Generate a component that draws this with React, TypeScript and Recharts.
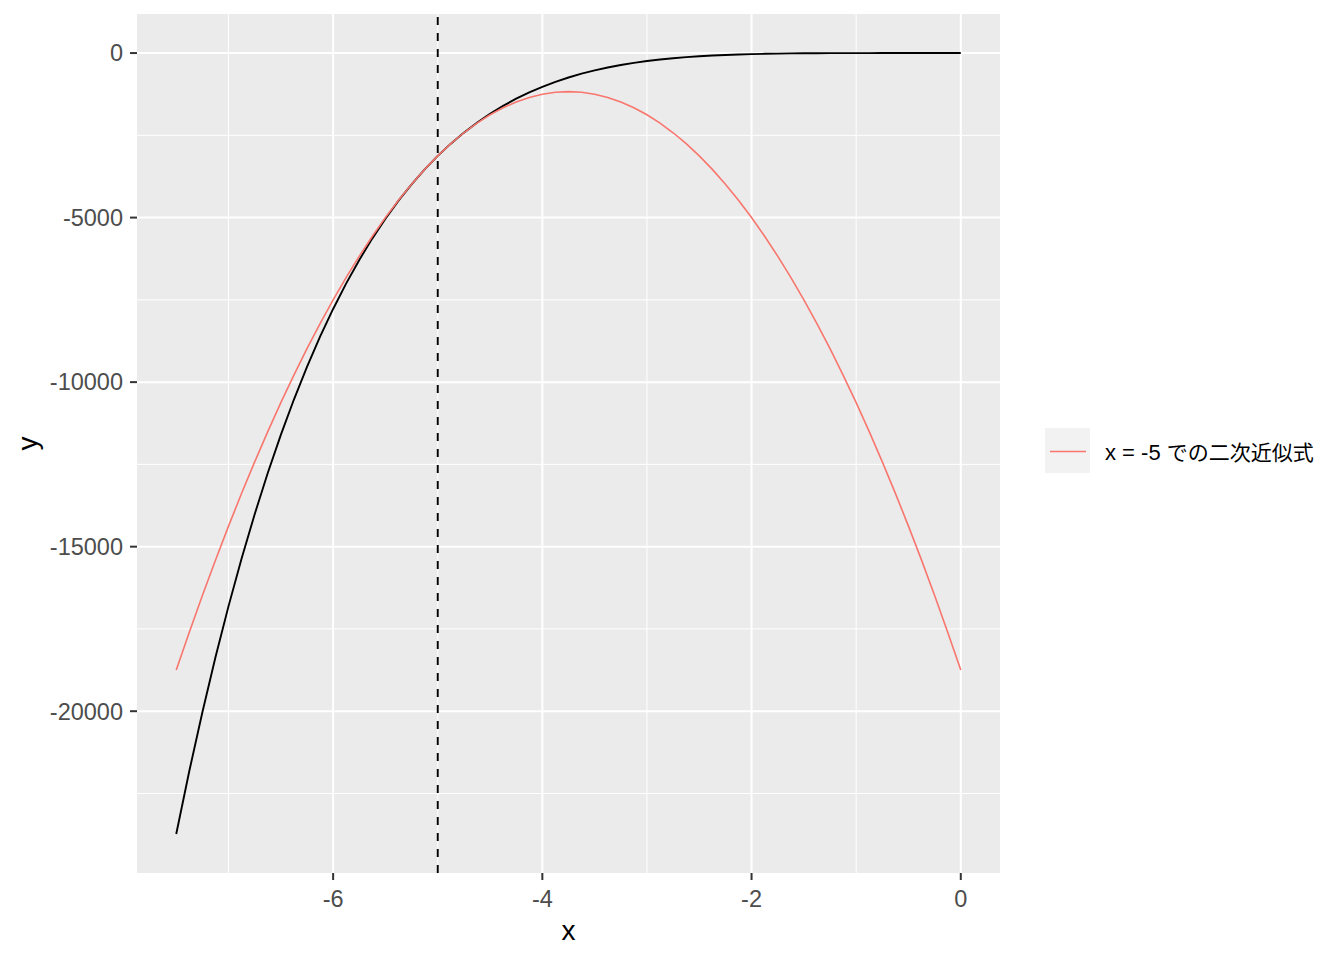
import { LineChart, Line, XAxis, YAxis, CartesianGrid, ReferenceLine } from "recharts";

// x の刻み（-7.5 から 0 まで 0.125 ずつ）
const xs = [
  -7.5, -7.375, -7.25, -7.125, -7, -6.875, -6.75, -6.625, -6.5, -6.375, -6.25, -6.125, -6, -5.875,
  -5.75, -5.625, -5.5, -5.375, -5.25, -5.125, -5, -4.875, -4.75, -4.625, -4.5, -4.375, -4.25,
  -4.125, -4, -3.875, -3.75, -3.625, -3.5, -3.375, -3.25, -3.125, -3, -2.875, -2.75, -2.625, -2.5,
  -2.375, -2.25, -2.125, -2, -1.875, -1.75, -1.625, -1.5, -1.375, -1.25, -1.125, -1, -0.875, -0.75,
  -0.625, -0.5, -0.375, -0.25, -0.125, 0,
];

// 元の関数（黒線）
const fValues = [
  -23730, -21818, -20030, -18362, -16807, -15359, -14013, -12762, -11603, -10529, -9537, -8620,
  -7776, -6999, -6286, -5631, -5033, -4486, -3988, -3536, -3125, -2753, -2418, -2116, -1845, -1603,
  -1387, -1194, -1024, -874, -742, -626, -525, -438, -363, -298, -243, -196, -157, -125, -98, -76,
  -58, -43, -32, -23, -16, -11, -8, -5, -3, -2, -1, -1, 0, 0, 0, 0, 0, 0, 0,
];

// x = -5 での二次近似（赤線）
const qValues = [
  -18750, -17598, -16484, -15410, -14375, -13379, -12422, -11504, -10625, -9785, -8984, -8223,
  -7500, -6816, -6172, -5566, -5000, -4473, -3984, -3535, -3125, -2754, -2422, -2129, -1875, -1660,
  -1484, -1348, -1250, -1191, -1172, -1191, -1250, -1348, -1484, -1660, -1875, -2129, -2422, -2754,
  -3125, -3535, -3984, -4473, -5000, -5566, -6172, -6816, -7500, -8223, -8984, -9785, -10625,
  -11504, -12422, -13379, -14375, -15410, -16484, -17598, -18750,
];

const xMajor = [-6, -4, -2, 0];
const xMinor = [-7, -5, -3, -1];
const yMajor = [0, -5000, -10000, -15000, -20000];
const yMinor = [-2500, -7500, -12500, -17500, -22500];
const expansionPoint = -5;
const legendLabel = "x = -5 での二次近似式";

const data = xs.map((x, i) => ({ x, f: fValues[i], q: qValues[i] }));

const FONT = "'Liberation Sans', Arial, 'Noto Sans CJK JP', sans-serif";
const RED = "#F8766D";

export default function App() {
  return (
    <div style={{ position: "absolute", left: 0, top: 0, width: 1344, height: 960, background: "#fff", fontFamily: FONT }}>
      <LineChart width={1344} height={960} data={data} margin={{ top: 14, right: 344, bottom: 0, left: 0 }}>
        <CartesianGrid
          fill="#EBEBEB"
          stroke="#FFFFFF"
          strokeWidth={1}
          horizontalValues={yMinor}
          verticalValues={xMinor}
        />
        <CartesianGrid
          fill="none"
          stroke="#FFFFFF"
          strokeWidth={2}
          horizontalValues={yMajor}
          verticalValues={xMajor}
        />
        <XAxis
          type="number"
          dataKey="x"
          domain={[-7.875, 0.375]}
          ticks={xMajor}
          allowDataOverflow
          height={87}
          axisLine={false}
          tickSize={7}
          tickMargin={10}
          tickLine={{ stroke: "#333333", strokeWidth: 2 }}
          tick={{ fill: "#4D4D4D", fontSize: 23.5, fontFamily: FONT }}
          label={{ value: "x", position: "insideBottom", offset: 20, fill: "#000", fontSize: 28, fontFamily: FONT }}
        />
        <YAxis
          type="number"
          domain={[-24917, 1187]}
          ticks={yMajor}
          allowDataOverflow
          width={137}
          axisLine={false}
          tickSize={7}
          tickMargin={7}
          tickLine={{ stroke: "#333333", strokeWidth: 2 }}
          tick={{ fill: "#4D4D4D", fontSize: 23.5, fontFamily: FONT }}
          label={{
            content: () => (
              <text x={37} y={443.5} transform="rotate(-90 37 443.5)" textAnchor="middle" fill="#000" fontSize={28} fontFamily={FONT}>
                y
              </text>
            ),
          }}
        />
        <Line type="linear" dataKey="f" stroke="#000000" strokeWidth={1.9} dot={false} isAnimationActive={false} />
        <Line type="linear" dataKey="q" stroke={RED} strokeWidth={1.6} dot={false} isAnimationActive={false} />
        <ReferenceLine x={expansionPoint} stroke="#000000" strokeWidth={1.9} strokeDasharray="8 8" />
      </LineChart>
      <svg width={300} height={60} style={{ position: "absolute", left: 1045, top: 428 }}>
        <rect x={0} y={0} width={45} height={45} fill="#F2F2F2" />
        <line x1={5} x2={41} y1={23.5} y2={23.5} stroke={RED} strokeWidth={1.6} />
        <text x={60} y={32} fontSize={22} fontFamily={FONT} fill="#000">
          {legendLabel.slice(0, 7)}
          <tspan fontSize={21} fontFamily="'Noto Sans CJK JP', sans-serif">{legendLabel.slice(7)}</tspan>
        </text>
      </svg>
    </div>
  );
}
